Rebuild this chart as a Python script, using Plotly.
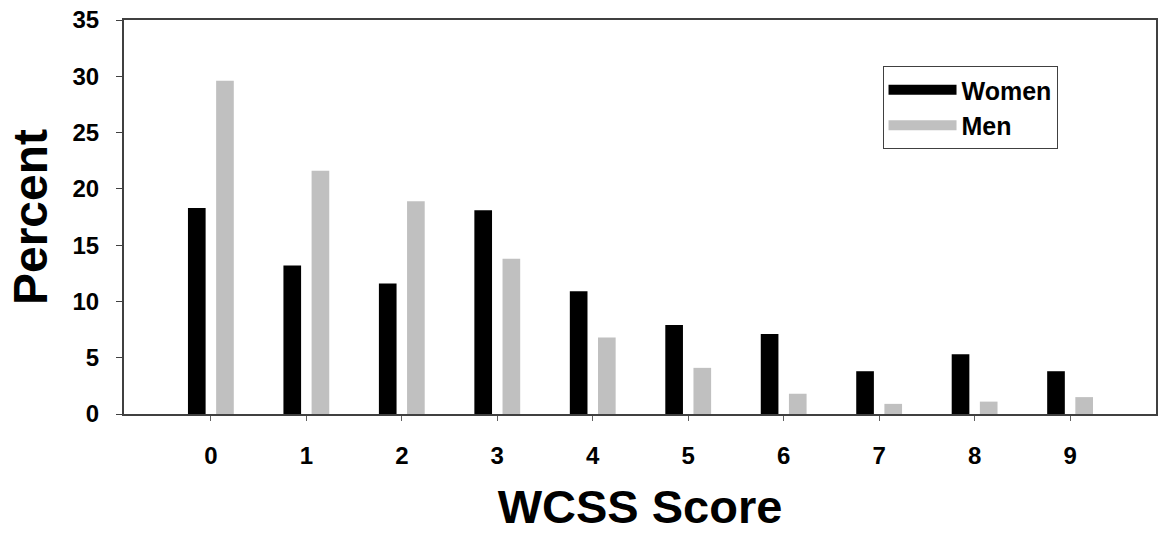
import plotly.graph_objects as go

scores = [0, 1, 2, 3, 4, 5, 6, 7, 8, 9]
women = [18.3, 13.2, 11.6, 18.1, 10.9, 7.9, 7.1, 3.8, 5.3, 3.8]
men = [29.6, 21.6, 18.9, 13.8, 6.8, 4.1, 1.8, 0.9, 1.1, 1.5]
y_ticks = [0, 5, 10, 15, 20, 25, 30, 35]

FONT = "Liberation Sans"
AXIS_COLOR = "#404040"

fig = go.Figure()
fig.add_trace(go.Bar(x=scores, y=women, name="Women", marker=dict(color="#000000", line=dict(width=0)),
                     width=0.185, offset=-0.24, showlegend=False))
fig.add_trace(go.Bar(x=scores, y=men, name="Men", marker=dict(color="#c0c0c0", line=dict(width=0)),
                     width=0.185, offset=0.055, showlegend=False))
# legend entries
fig.add_trace(go.Scatter(x=[None], y=[None], mode="lines", name="Women",
                         line=dict(color="#000000", width=10)))
fig.add_trace(go.Scatter(x=[None], y=[None], mode="lines", name="Men",
                         line=dict(color="#c0c0c0", width=10)))

fig.update_layout(
    width=1163, height=536,
    margin=dict(l=124, r=5, t=20, b=122),
    paper_bgcolor="white", plot_bgcolor="white",
    barmode="overlay",
    font=dict(family=FONT, color="black", size=24, weight="bold"),
    legend=dict(x=0.735, y=0.883, xanchor="left", yanchor="top",
                bordercolor="#404040", borderwidth=1, bgcolor="white",
                font=dict(family=FONT, size=25, weight="bold", color="black"),
                itemwidth=68, tracegroupgap=0),
    xaxis=dict(range=[-0.91, 9.9], tickmode="array", tickvals=scores,
               ticktext=[str(s) for s in scores],
               showline=True, linecolor=AXIS_COLOR, linewidth=2, mirror=True,
               ticks="outside", ticklen=5, tickwidth=1, tickcolor="#606060",
               showgrid=False, zeroline=False, ticklabelstandoff=14,
               tickfont=dict(family=FONT, size=24, weight="bold"),
               title=dict(text="WCSS Score", standoff=22,
                          font=dict(family=FONT, size=47, weight="bold"))),
    yaxis=dict(range=[0, 35], tickmode="array", tickvals=y_ticks,
               showline=True, linecolor=AXIS_COLOR, linewidth=2, mirror=True,
               ticks="outside", ticklen=6, tickwidth=1, tickcolor=AXIS_COLOR,
               showgrid=False, zeroline=False, ticklabelstandoff=12,
               automargin=True,
               tickfont=dict(family=FONT, size=24, weight="bold"),
               title=dict(text="Percent", standoff=10,
                          font=dict(family=FONT, size=48, weight="bold"))),
)

fig.write_html("out.html", config={"displayModeBar": False},
               post_script="document.body.style.margin='0';document.body.style.overflow='hidden';")
